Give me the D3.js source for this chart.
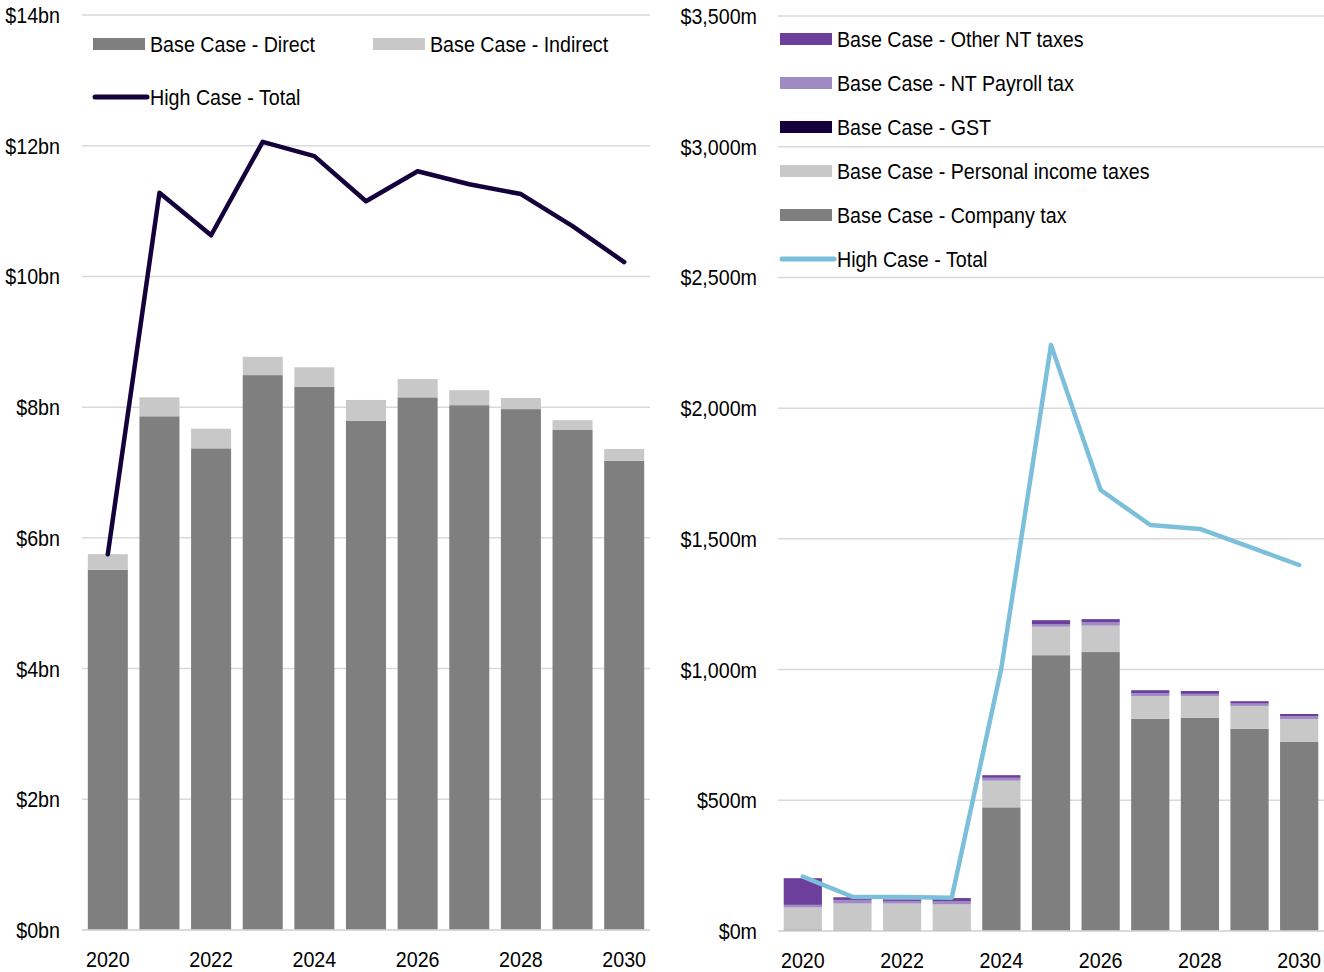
<!DOCTYPE html>
<html>
<head>
<meta charset="utf-8">
<script src="https://cdn.jsdelivr.net/npm/d3@7"></script>
<style>
  html, body { margin: 0; padding: 0; background: #fff; }
  svg text { font-family: "Liberation Sans", Arial, sans-serif; fill: #000; }
</style>
</head>
<body>
<svg id="chart" width="1324" height="972"></svg>
<script>
const years = [2020, 2021, 2022, 2023, 2024, 2025, 2026, 2027, 2028, 2029, 2030];
const xTickYears = [2020, 2022, 2024, 2026, 2028, 2030];

// Left chart ($bn)
const leftDirect   = [5.51, 7.86, 7.37, 8.49, 8.31, 7.79, 8.15, 8.03, 7.97, 7.65, 7.18];
const leftIndirect = [0.24, 0.29, 0.30, 0.28, 0.30, 0.32, 0.28, 0.23, 0.17, 0.15, 0.18];
const leftHighTotal = [5.75, 11.28, 10.63, 12.06, 11.84, 11.15, 11.61, 11.41, 11.26, 10.77, 10.22];
const leftTicks = [0, 2, 4, 6, 8, 10, 12, 14];

// Right chart ($m)
const companyTax  = [6, 5, 5, 5, 473, 1055, 1067, 812, 816, 774, 723];
const personalTax = [84, 100, 100, 97, 102, 109, 101, 87, 83, 87, 88];
const gst         = [0, 0, 0, 0, 0, 0, 0, 0, 0, 0, 0];
const payrollTax  = [10, 14, 10, 11, 11, 10, 14, 11, 8, 9, 11];
const otherNT     = [102, 10, 6, 13, 10, 15, 11, 11, 11, 9, 8];
const rightHighTotal = [208, 131, 130, 127, 1006, 2242, 1687, 1553, 1538, 1469, 1400];
const rightTicks = [0, 500, 1000, 1500, 2000, 2500, 3000, 3500];

const svg = d3.select("#chart");
const FS = 21.5;
const SX = 0.915;
const gridColor = "#d9d9d9";

function drawPanel(opts) {
  const g = svg.append("g");
  const x = d3.scaleBand().domain(years).range([opts.x0, opts.x1]).paddingInner(opts.pad).paddingOuter(opts.pad / 2);
  const y = d3.scaleLinear().domain([0, opts.max]).range([opts.yBottom, opts.yTop]);

  g.append("g").selectAll("line").data(opts.ticks).join("line")
    .attr("x1", opts.x0).attr("x2", opts.x1)
    .attr("y1", d => y(d)).attr("y2", d => y(d))
    .attr("stroke", gridColor).attr("stroke-width", 1.5);

  const yAxis = d3.axisLeft(y).tickValues(opts.ticks).tickFormat(opts.fmt).tickSize(0).tickPadding(0);
  const ya = g.append("g").attr("transform", `translate(${opts.labelX},0)`).call(yAxis);
  ya.select(".domain").remove();
  ya.selectAll("text").attr("font-size", FS).attr("font-family", null).attr("dy", "0.35em");

  const stack = d3.stack().keys(d3.range(opts.series.length))
    .value((d, k) => opts.series[k].values[d]);
  const stacked = stack(d3.range(years.length));
  stacked.forEach((layer, k) => {
    g.append("g").selectAll("rect").data(layer).join("rect")
      .attr("x", (d, i) => x(years[i]))
      .attr("width", x.bandwidth())
      .attr("y", d => y(d[1]))
      .attr("height", d => Math.max(0, y(d[0]) - y(d[1])))
      .attr("fill", opts.series[k].color);
  });

  const xAxis = d3.axisBottom(x).tickValues(xTickYears).tickSize(0).tickPadding(0);
  const xa = g.append("g").attr("transform", `translate(0,${opts.yBottom})`).call(xAxis);
  xa.select(".domain").attr("stroke", gridColor).attr("stroke-width", 1.5)
    .attr("d", `M${opts.x0},0H${opts.x1}`);
  xa.selectAll("text").attr("font-size", FS).attr("font-family", null).attr("y", 37).attr("dy", 0);

  const line = d3.line().x((d, i) => x(years[i]) + x.bandwidth() / 2).y(d => y(d));
  g.append("path").datum(opts.line.values).attr("d", line)
    .attr("fill", "none").attr("stroke", opts.line.color).attr("stroke-width", 4.5)
    .attr("stroke-linejoin", "round").attr("stroke-linecap", "round");
  return g;
}

drawPanel({
  x0: 82, x1: 650, yTop: 15, yBottom: 930, max: 14, pad: 0.225,
  ticks: leftTicks, labelX: 60, fmt: d => `$${d}bn`,
  series: [
    { name: "Base Case - Direct", color: "#7f7f7f", values: leftDirect },
    { name: "Base Case - Indirect", color: "#c8c8c8", values: leftIndirect }
  ],
  line: { name: "High Case - Total", color: "#14003a", values: leftHighTotal }
});

drawPanel({
  x0: 778, x1: 1324, yTop: 16, yBottom: 931, max: 3500, pad: 0.23,
  ticks: rightTicks, labelX: 757, fmt: d => "$" + d3.format(",")(d) + "m",
  series: [
    { name: "Base Case - Company tax", color: "#7f7f7f", values: companyTax },
    { name: "Base Case - Personal income taxes", color: "#c8c8c8", values: personalTax },
    { name: "Base Case - GST", color: "#14003a", values: gst },
    { name: "Base Case - NT Payroll tax", color: "#a08ac4", values: payrollTax },
    { name: "Base Case - Other NT taxes", color: "#6b3f9b", values: otherNT }
  ],
  line: { name: "High Case - Total", color: "#7bbfda", values: rightHighTotal }
});

function legendItem(xs, ys, label, color, type) {
  const g = svg.append("g").attr("transform", `translate(${xs},${ys})`);
  if (type === "rect") {
    g.append("rect").attr("x", 0).attr("y", -6).attr("width", 52).attr("height", 12).attr("fill", color);
  } else {
    g.append("line").attr("x1", 2).attr("x2", 54).attr("y1", 0).attr("y2", 0)
      .attr("stroke", color).attr("stroke-width", 5).attr("stroke-linecap", "round");
  }
  g.append("text").attr("x", 57).attr("y", 0).attr("dy", "0.35em").attr("font-size", FS).text(label);
}
legendItem(93, 44, "Base Case - Direct", "#7f7f7f", "rect");
legendItem(373, 44, "Base Case - Indirect", "#c8c8c8", "rect");
legendItem(93, 97, "High Case - Total", "#14003a", "line");

const rightLegend = [
  ["Base Case - Other NT taxes", "#6b3f9b", "rect"],
  ["Base Case - NT Payroll tax", "#a08ac4", "rect"],
  ["Base Case - GST", "#14003a", "rect"],
  ["Base Case - Personal income taxes", "#c8c8c8", "rect"],
  ["Base Case - Company tax", "#7f7f7f", "rect"],
  ["High Case - Total", "#7bbfda", "line"]
];
rightLegend.forEach((d, i) => legendItem(780, 39 + i * 44, d[0], d[1], d[2]));

// Condense text horizontally (narrow-font look)
svg.selectAll("text").each(function() {
  const t = d3.select(this);
  const xv = +(t.attr("x") || 0);
  t.attr("x", 0).attr("transform", `translate(${xv},0) scale(${SX},1)`);
});
</script>
</body>
</html>
